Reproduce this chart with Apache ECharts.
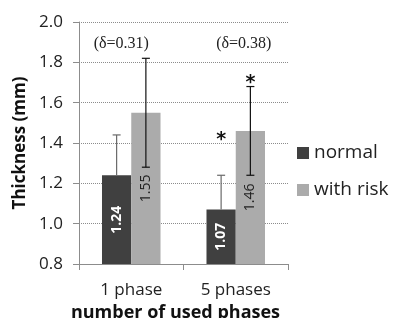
<!DOCTYPE html>
<html>
<head>
<meta charset="utf-8">
<script src="https://cdn.jsdelivr.net/npm/echarts@6/dist/echarts.min.js"></script>
<style>
  html, body { margin: 0; padding: 0; background: #fff; }
  #chart { width: 404px; height: 318px; }
</style>
</head>
<body>
<div id="chart"></div>
<script>
// data
const categories = ['1 phase', '5 phases'];
const normalMean = [1.24, 1.07];
const riskMean = [1.55, 1.46];
const normalErr = [0.20, 0.17];
const riskErr = [0.27, 0.22];
const deltaLabels = ['(δ=0.31)', '(δ=0.38)'];
const deltaY = [1.89, 1.89];
const starNormalY = [null, 1.44];
const starRiskY = [null, 1.72];

const SANS = '"Open Sans", sans-serif';
const GAP = 0.44;

const chart = echarts.init(document.getElementById('chart'));

// x of a bar centre: side -1 = normal, +1 = with risk
function barX(api, cat, val, side) {
  const band = api.size([1, 0])[0];
  const bw = band * (1 - GAP) / 2;
  return api.coord([cat, val])[0] + side * bw / 2;
}

function errorSeries(means, errs, side, color, plusOnly) {
  return {
    type: 'custom',
    z: 5,
    silent: true,
    data: means.map((m, i) => [i, m, errs[i]]),
    renderItem(params, api) {
      const cat = api.value(0), m = api.value(1), e = api.value(2);
      const x = barX(api, cat, m, side);
      const yTop = api.coord([cat, m + e])[1];
      const yBot = api.coord([cat, plusOnly ? m : m - e])[1];
      const cap = 4;
      const st = { stroke: color, lineWidth: 1.2 };
      const kids = [
        { type: 'line', shape: { x1: x, y1: yTop, x2: x, y2: yBot }, style: st },
        { type: 'line', shape: { x1: x - cap, y1: yTop, x2: x + cap, y2: yTop }, style: st }
      ];
      if (!plusOnly) {
        kids.push({ type: 'line', shape: { x1: x - cap, y1: yBot, x2: x + cap, y2: yBot }, style: st });
      }
      return { type: 'group', children: kids };
    }
  };
}

function starSeries(ys, side) {
  return {
    type: 'custom',
    z: 6,
    silent: true,
    data: ys.map((y, i) => [i, y]).filter(d => d[1] != null),
    renderItem(params, api) {
      const cat = api.value(0), v = api.value(1);
      const x = barX(api, cat, v, side);
      const y = api.coord([cat, v])[1];
      return {
        type: 'text',
        style: { x: x, y: y + 5, text: '*', font: 'bold 19px "DejaVu Sans"', fill: '#111',
                 align: 'center', verticalAlign: 'middle' }
      };
    }
  };
}

chart.setOption({
  animation: false,
  backgroundColor: '#fff',
  grid: { left: 79, right: 116, top: 22, bottom: 54, outerBoundsMode: 'none', containLabel: false },
  legend: {
    orient: 'vertical',
    left: 292,
    top: 137,
    itemWidth: 12,
    itemHeight: 12,
    itemGap: 15,
    icon: 'rect',
    textStyle: { fontFamily: SANS, fontSize: 19, color: '#222', lineHeight: 22 },
    data: ['normal', 'with risk']
  },
  xAxis: {
    type: 'category',
    data: categories,
    name: 'number of used phases',
    nameLocation: 'middle',
    nameGap: 40,
    nameTextStyle: { fontFamily: SANS, fontSize: 18, fontWeight: 'bold', color: '#111', padding: [0, 16, 0, 0] },
    axisLine: { lineStyle: { color: '#8c8c8c', width: 1 } },
    axisTick: { show: true, length: 6, lineStyle: { color: '#8c8c8c' } },
    axisLabel: { fontFamily: SANS, fontSize: 17, color: '#222', margin: 18 }
  },
  yAxis: {
    type: 'value',
    min: 0.8,
    max: 2.0,
    interval: 0.2,
    name: 'Thickness (mm)',
    nameLocation: 'middle',
    nameGap: 48,
    nameTextStyle: { fontFamily: SANS, fontSize: 17, fontWeight: 'bold', color: '#111' },
    axisLine: { show: true, lineStyle: { color: '#8c8c8c', width: 1 } },
    axisTick: { show: true, length: 6, lineStyle: { color: '#8c8c8c' } },
    axisLabel: { fontFamily: SANS, fontSize: 17, color: '#222', margin: 16,
                 formatter: v => v.toFixed(1) },
    splitLine: { lineStyle: { color: '#8c8c8c', type: 'dotted', width: 1 } }
  },
  series: [
    {
      name: 'normal',
      type: 'bar',
      data: normalMean,
      barGap: '0%',
      barCategoryGap: (GAP * 100) + '%',
      itemStyle: { color: '#404040' },
      label: {
        show: true, position: 'inside', rotate: 90,
        fontFamily: SANS, fontSize: 14, fontWeight: 'bold', color: '#fff',
        formatter: p => p.value.toFixed(2)
      }
    },
    {
      name: 'with risk',
      type: 'bar',
      data: riskMean,
      itemStyle: { color: '#ababab' },
      label: {
        show: true, position: 'inside', rotate: 90,
        fontFamily: SANS, fontSize: 14, color: '#222',
        formatter: p => p.value.toFixed(2)
      }
    },
    errorSeries(normalMean, normalErr, -1, '#6a6a6a', true),
    errorSeries(riskMean, riskErr, 1, '#111', false),
    starSeries(starNormalY, -1),
    starSeries(starRiskY, 1),
    {
      type: 'custom',
      z: 6,
      silent: true,
      data: deltaY.map((y, i) => [i, y, i]),
      renderItem(params, api) {
        const cat = api.value(0), v = api.value(1);
        const p = api.coord([cat, v]);
        const shift = cat === 0 ? -10 : 8;
        return {
          type: 'text',
          style: { x: p[0] + shift, y: p[1], text: deltaLabels[api.value(2)],
                   font: '16px "Liberation Serif"', fill: '#222',
                   align: 'center', verticalAlign: 'middle' }
        };
      }
    }
  ]
});
</script>
</body>
</html>
